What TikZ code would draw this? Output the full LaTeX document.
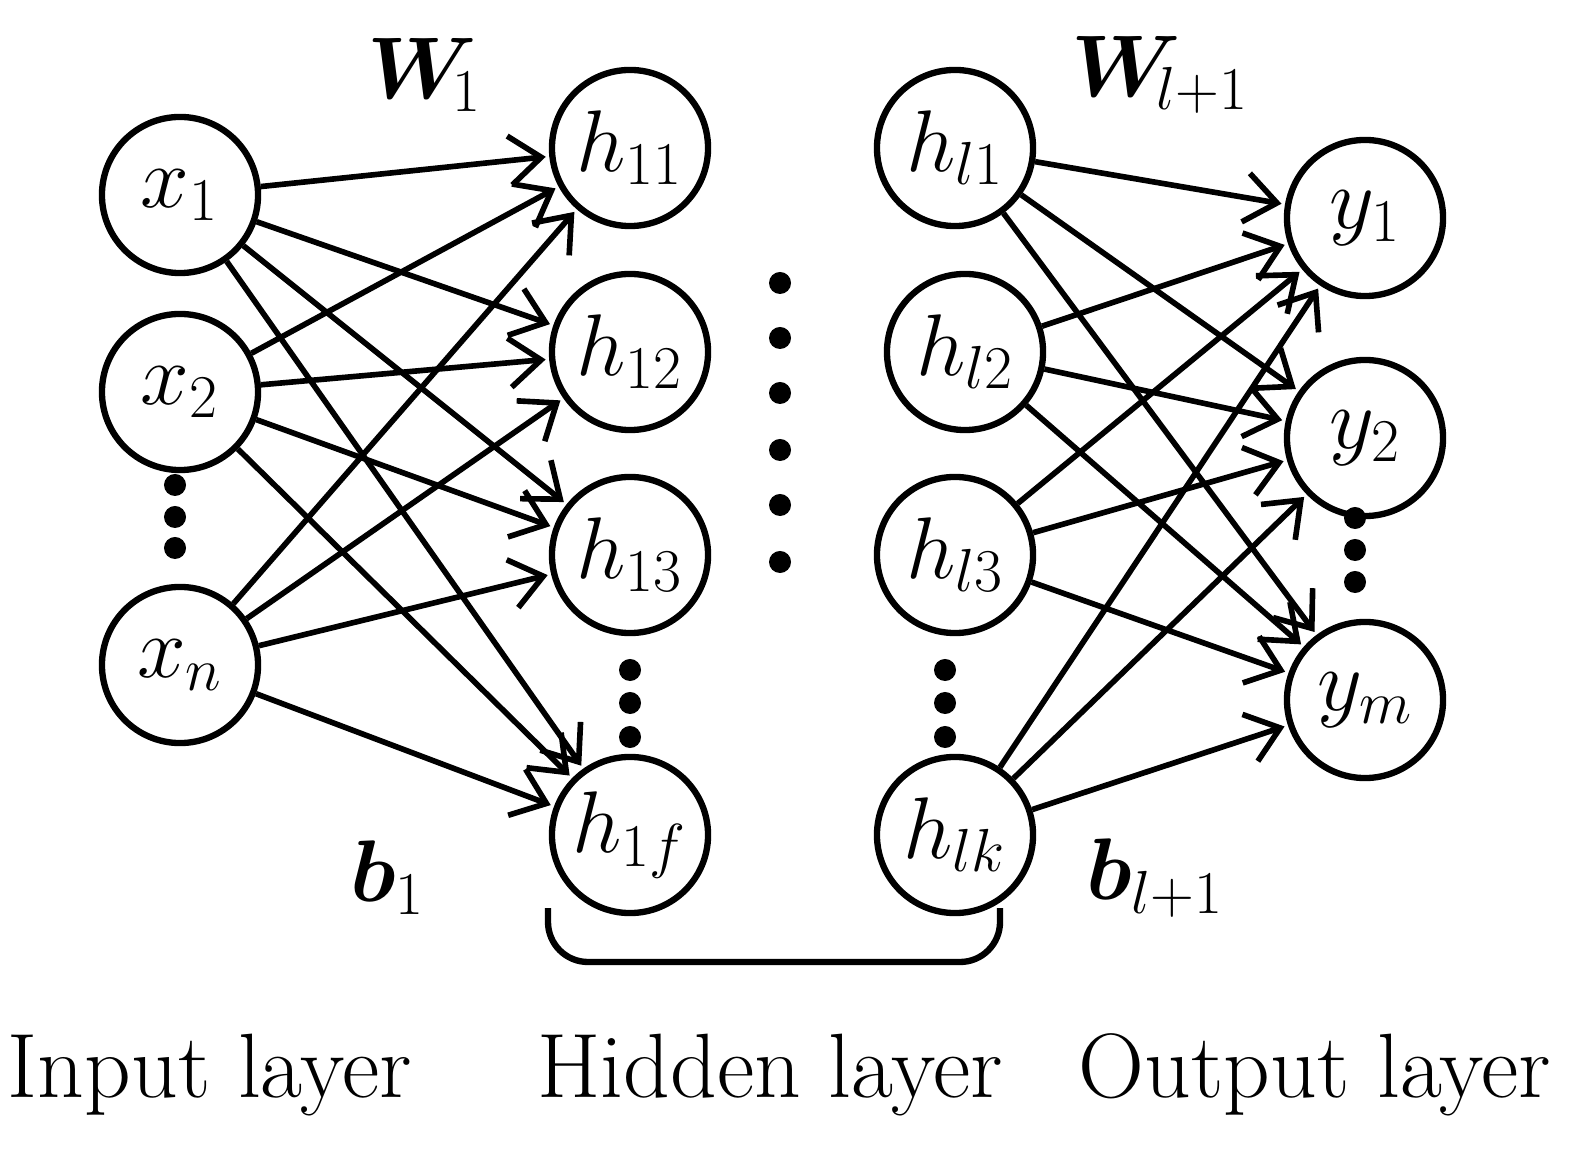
\documentclass[tikz,border=0pt]{standalone}
\usepackage{amsmath,bm}
\usetikzlibrary{arrows.meta}
\begin{document}
\begin{tikzpicture}[x=0.01cm,y=-0.01cm,
 neu/.style={circle,draw,line width=1.8pt,minimum size=1.56cm,inner sep=0pt,font=\fontsize{26}{30}\selectfont},
 con/.style={line width=1.6pt,-{Straight Barb[length=9pt,width=14pt,line width=1.6pt]},shorten >=1pt},
 dot/.style={circle,fill,inner sep=0pt,minimum size=0.22cm},
 lab/.style={font=\fontsize{26}{30}\selectfont},
 wl/.style={font=\fontsize{26}{30}\selectfont}]
\useasboundingbox (0,0) rectangle (1592,1174);
\node[neu] (x1) at (180,195) {$x_1$};
\node[neu] (x2) at (180,392) {$x_2$};
\node[neu] (xn) at (180,665) {$x_n$};
\node[neu] (h11) at (630,148) {$h_{11}$};
\node[neu] (h12) at (630,352) {$h_{12}$};
\node[neu] (h13) at (630,555) {$h_{13}$};
\node[neu] (h1f) at (630,835) {$h_{1f}$};
\node[neu] (hl1) at (955,148) {$h_{l1}$};
\node[neu] (hl2) at (965,352) {$h_{l2}$};
\node[neu] (hl3) at (955,555) {$h_{l3}$};
\node[neu] (hlk) at (955,835) {$h_{lk}$};
\node[neu] (y1) at (1365,218) {$y_1$};
\node[neu] (y2) at (1365,438) {$y_2$};
\node[neu] (ym) at (1365,700) {$y_m$};
\foreach \a in {x1,x2,xn}{\foreach \b in {h11,h12,h13,h1f}{\draw[con] (\a) -- (\b);}}
\foreach \a in {hl1,hl2,hl3,hlk}{\foreach \b in {y1,y2,ym}{\draw[con] (\a) -- (\b);}}
\foreach \y [count=\i] in {485,517,548}{\node[dot] (dx\i) at (175,\y) {};}
\foreach \y [count=\i] in {283,338,393,450,505,562}{\node[dot] (dm\i) at (780,\y) {};}
\foreach \y [count=\i] in {670,703,737}{\node[dot] (dh\i) at (630,\y) {}; \node[dot] (dl\i) at (945,\y) {};}
\foreach \y [count=\i] in {518,550,582}{\node[dot] (dy\i) at (1355,\y) {};}
\node[wl] (w1) at (425,75) {$\bm{W}_{\!1}$};
\node[wl] (wl) at (1160,75) {$\bm{W}_{\!l+1}$};
\node[wl] (b1) at (388,878) {$\bm{b}_1$};
\node[wl] (bl) at (1155,878) {$\bm{b}_{l+1}$};
\coordinate (ba) at (548,908); \coordinate (bb) at (1000,908);
\draw[line width=1.8pt] (ba) -- (548,922) arc[start angle=180,end angle=270,x radius=40,y radius=-40] -- (960,962) arc[start angle=270,end angle=360,x radius=40,y radius=-40] -- (bb);
\node[lab] (in) at (210,1075) {Input layer};
\node[lab] (hid) at (770,1075) {Hidden layer};
\node[lab] (out) at (1315,1075) {Output layer};
\end{tikzpicture}
\end{document}
